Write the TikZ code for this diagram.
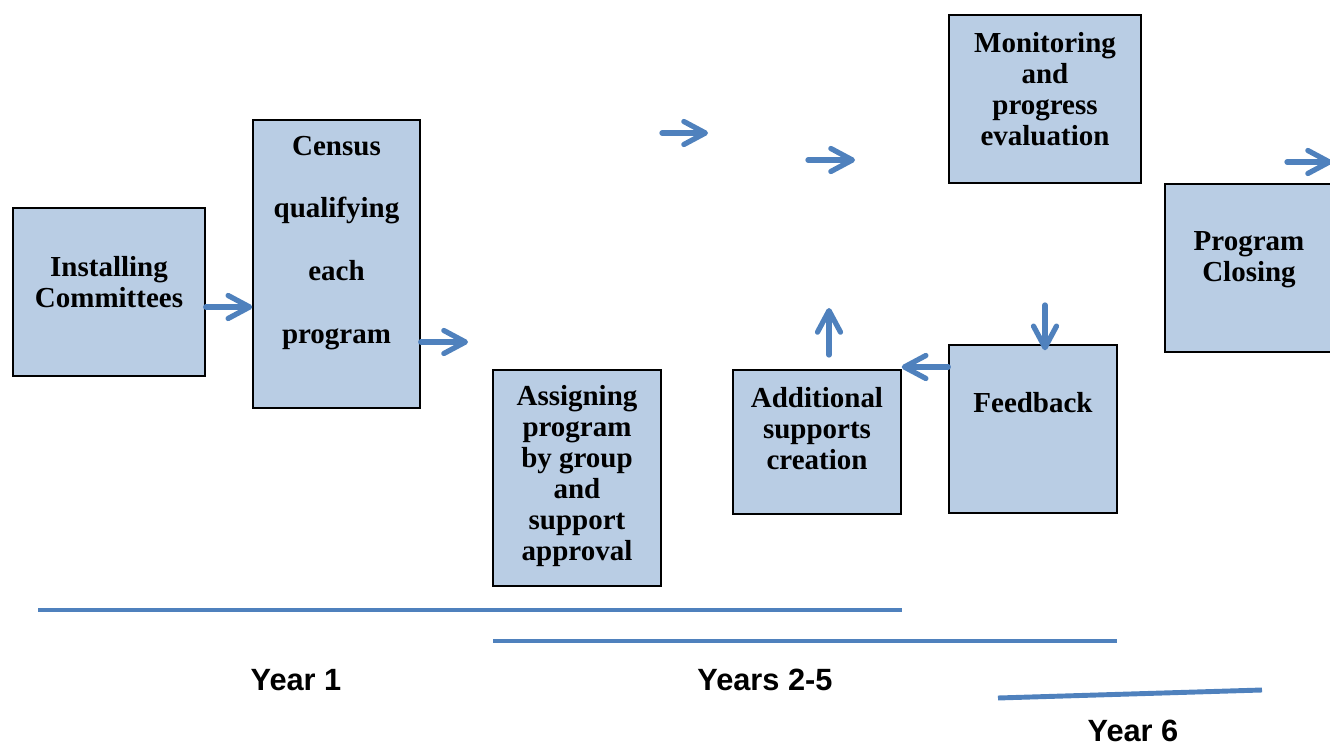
\documentclass[tikz,border=0pt]{standalone}
\usepackage{fontspec}
\setmainfont{Liberation Serif}
\newfontfamily\yearfont{Liberation Sans}
\usepackage{tikz}
\usetikzlibrary{arrows.meta, calc}

\definecolor{boxfill}{RGB}{185,205,228}
\definecolor{flowblue}{RGB}{79,129,189}

\tikzset{
  box/.style={draw=black, line width=0.85pt, fill=boxfill, inner sep=0pt},
  boxtext/.style={align=center, inner sep=0pt, font=\fontsize{16.5}{17.6}\selectfont\bfseries},
  flow/.style={draw=flowblue, line width=3pt, line cap=round,
    -{Straight Barb[length=4.3mm, width=4.6mm, round]}},
  yearline/.style={draw=flowblue, line width=2.8pt},
  yearlabel/.style={inner sep=0pt, font=\fontsize{17.5}{20}\yearfont\bfseries}
}

\begin{document}
\begin{tikzpicture}[x=0.02cm, y=-0.02cm]

\useasboundingbox (0,0) rectangle (1330,747);

% boxes
\node[box, minimum width=3.84cm, minimum height=3.36cm] (inst)   at (109,292)   {};
\node[box, minimum width=3.34cm, minimum height=5.76cm] (census) at (336.5,264) {};
\node[box, minimum width=3.36cm, minimum height=4.32cm] (assign) at (577,478)   {};
\node[box, minimum width=3.36cm, minimum height=2.88cm] (addit)  at (817,442)   {};
\node[box, minimum width=3.36cm, minimum height=3.36cm] (feed)   at (1033,429)  {};
\node[box, minimum width=3.84cm, minimum height=3.36cm] (monit)  at (1045,99)   {};
\node[box, minimum width=3.36cm, minimum height=3.36cm] (close)  at (1249,268)  {};

% texts
\node[boxtext] (instT)   at (109,282)   {Installing\\Committees};
\node[boxtext, font=\fontsize{16.5}{35.8}\selectfont\bfseries] (censusT) at (336.5,243) {Census\\qualifying\\each\\program};
\node[boxtext] (assignT) at (577,476)   {Assigning\\program\\by group\\and\\support\\approval};
\node[boxtext] (additT)  at (817,429)   {Additional\\supports\\creation};
\node[boxtext] (feedT)   at (1033,403)  {Feedback};
\node[boxtext] (monitT)  at (1045,89)   {Monitoring\\and\\progress\\evaluation};
\node[boxtext] (closeT)  at (1249,260)  {Program\\Closing};

% free arrow ends
\coordinate (c1) at (468,342);
\coordinate (f1s) at (662,133);  \coordinate (f1e) at (708,133);
\coordinate (f2s) at (808,160);  \coordinate (f2e) at (855,160);
\coordinate (f3s) at (1287,162); \coordinate (f3e) at (1332,162);
\coordinate (upS) at (829,355);  \coordinate (upE) at (829,308);
\coordinate (dnS) at (1045,305);

% arrows
\draw[flow] (inst.east |- 0,307) -- (census.west |- 0,307);
\draw[flow] (census.east |- c1) -- (c1);
\draw[flow] (f1s) -- (f1e);
\draw[flow] (f2s) -- (f2e);
\draw[flow] (f3s) -- (f3e);
\draw[flow] (upS) -- (upE);
\draw[flow] (feed.west |- 0,367) -- (addit.east |- 0,367);
\draw[flow] (dnS) -- ($(feed.north -| dnS)+(0,6)$);

% time lines
\draw[yearline] (38,610) -- (902,610);
\draw[yearline] (493,641) -- (1117,641);
\draw[yearline] (998,698) -- (1262,690);

\node[yearlabel] (y1)  at (296,680)  {Year 1};
\node[yearlabel] (y25) at (765,680)  {Years 2-5};
\node[yearlabel] (y6)  at (1133,731) {Year 6};

\end{tikzpicture}
\end{document}
